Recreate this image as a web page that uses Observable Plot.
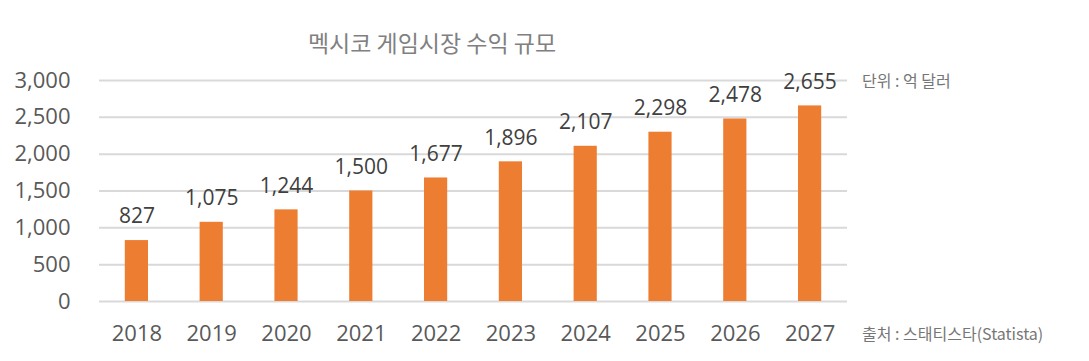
<!DOCTYPE html>
<html><head><meta charset="utf-8">
<script src="https://cdn.jsdelivr.net/npm/d3@7"></script>
<script src="https://cdn.jsdelivr.net/npm/@observablehq/plot@0.6"></script>
<style>
body{margin:0;background:#fff;}
#wrap{position:relative;width:1089px;height:361px;}
.t{position:absolute;font-family:"Noto Sans CJK KR","Noto Sans",sans-serif;white-space:nowrap;}
</style></head>
<body><div id="wrap"></div>
<script>
const years = ["2018","2019","2020","2021","2022","2023","2024","2025","2026","2027"];
const revenue = [827,1075,1244,1500,1677,1896,2107,2298,2478,2655];
const yTicks = [0,500,1000,1500,2000,2500,3000];
const title = "멕시코 게임시장 수익 규모";
const unitNote = "단위 : 억 달러";
const sourceNote = "출처 : 스태티스타(Statista)";

const data = years.map((y,i)=>({year:y, value:revenue[i]}));
const fmt = d3.format(",");
const chart = Plot.plot({
  width:1089, height:361,
  marginLeft:99, marginRight:242, marginTop:80, marginBottom:60,
  style:{fontFamily:"'Open Sans','Noto Sans',sans-serif", fontSize:"22px", color:"#595959", background:"#fff"},
  x:{domain:years, paddingInner:0.69, paddingOuter:0.345, round:false, label:null, tickSize:0, tickPadding:24},
  y:{domain:[0,3000], ticks:yTicks, label:null, tickSize:0, tickPadding:29, tickFormat:fmt},
  marks:[
    Plot.gridY(yTicks,{stroke:"#d9d9d9", strokeOpacity:1, strokeWidth:2}),
    Plot.barY(data,{x:"year", y:"value", fill:"#ED7D31"}),
    Plot.text(data,{x:"year", y:"value", text:d=>fmt(d.value), dy:-24, fill:"#404040", fontSize:21})
  ]
});
const wrap = document.getElementById("wrap");
wrap.appendChild(chart);
function addText(txt,x,y,size,color,anchor){
  const d=document.createElement("div");d.className="t";d.textContent=txt;
  d.style.left=x+"px";d.style.top=y+"px";d.style.fontSize=size+"px";d.style.color=color;
  if(anchor==="middle")d.style.transform="translate(-50%,-50%)";else d.style.transform="translateY(-50%)";
  wrap.appendChild(d);
}
addText(title,432,42,23,"#808080","middle");
addText(unitNote,862,80,16,"#767676");
addText(sourceNote,862,333,16,"#767676");
</script></body></html>
